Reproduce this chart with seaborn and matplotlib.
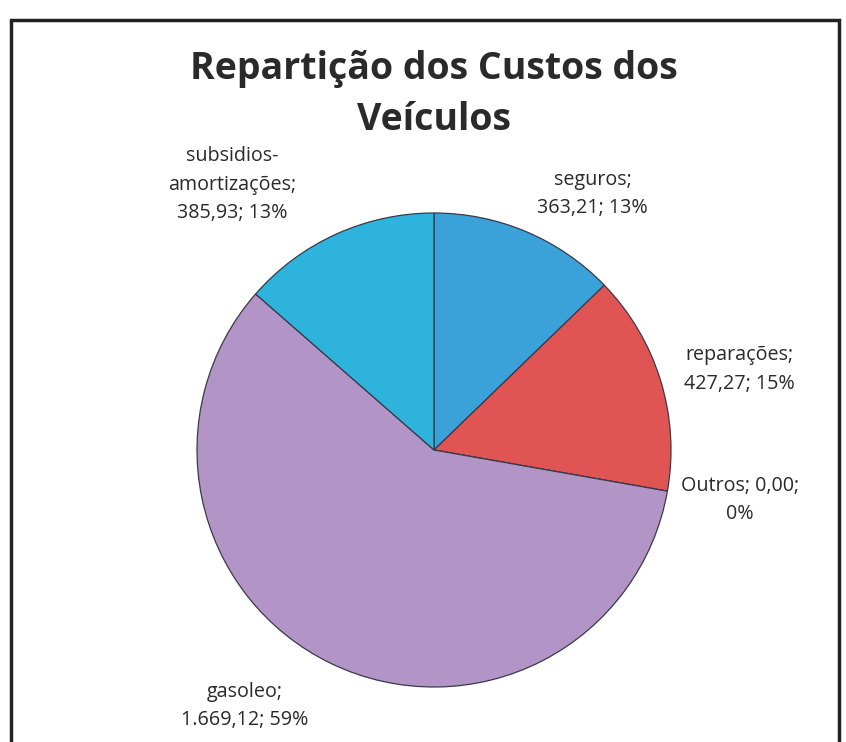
import numpy as np
import matplotlib
matplotlib.use("Agg")
import matplotlib.pyplot as plt
import seaborn as sns

# dados do gráfico (ordem no sentido horário a partir do topo)
categorias = ["seguros", "reparações", "Outros", "gasoleo", "subsidios-\namortizações"]
custos = [363.21, 427.27, 0.00, 1669.12, 385.93]
percentagens = ["13%", "15%", "0%", "59%", "13%"]
rotulos = ["seguros;\n363,21; 13%",
           "reparações;\n427,27; 15%",
           "Outros; 0,00;\n0%",
           "gasoleo;\n1.669,12; 59%",
           "subsidios-\namortizações;\n385,93; 13%"]
cores = ["#3ba1d9", "#e05454", "#8a8a8a", "#b394c6", "#2db3dc"]

# posição dos rótulos (em unidades do raio)
pos_rotulos = [(0.67, 1.08), (1.29, 0.34), (1.29, -0.21), (-0.80, -1.08), (-0.85, 1.12)]

sns.set_theme(style="white")
plt.rcParams["font.family"] = ["Open Sans", "DejaVu Sans"]

fig = plt.figure(figsize=(8.46, 7.42), dpi=100)
ax = fig.add_axes([0, 0, 1, 1])

wedges, _ = ax.pie(custos, colors=cores, startangle=90, counterclock=False,
                   radius=1.0, center=(0, 0),
                   wedgeprops=dict(edgecolor="#3a3a4a", linewidth=0.9))

for txt, (x, y) in zip(rotulos, pos_rotulos):
    ax.text(x, y, txt, ha="center", va="center", fontsize=14.2,
            color="#2a2a2a", linespacing=1.55)

ax.text(0.0, 1.50, "Repartição dos Custos dos\nVeículos", ha="center", va="center",
        fontsize=27, fontweight="bold", color="#2a2a2a", linespacing=1.45)

# escala: raio = 237 px, centro em (434, 450) px
r = 237.0
ax.set_xlim(-434 / r, (846 - 434) / r)
ax.set_ylim(-(742 - 450) / r, 450 / r)
ax.set_aspect("equal")
ax.axis("off")

# moldura do gráfico
frame = plt.Rectangle((11 / 846, -0.05), (839 - 11) / 846, (742 - 20) / 742 + 0.05,
                      transform=fig.transFigure, fill=False, edgecolor="#222222",
                      linewidth=2.5)
fig.patches.append(frame)

fig.savefig("out.png", dpi=100, facecolor="white")
